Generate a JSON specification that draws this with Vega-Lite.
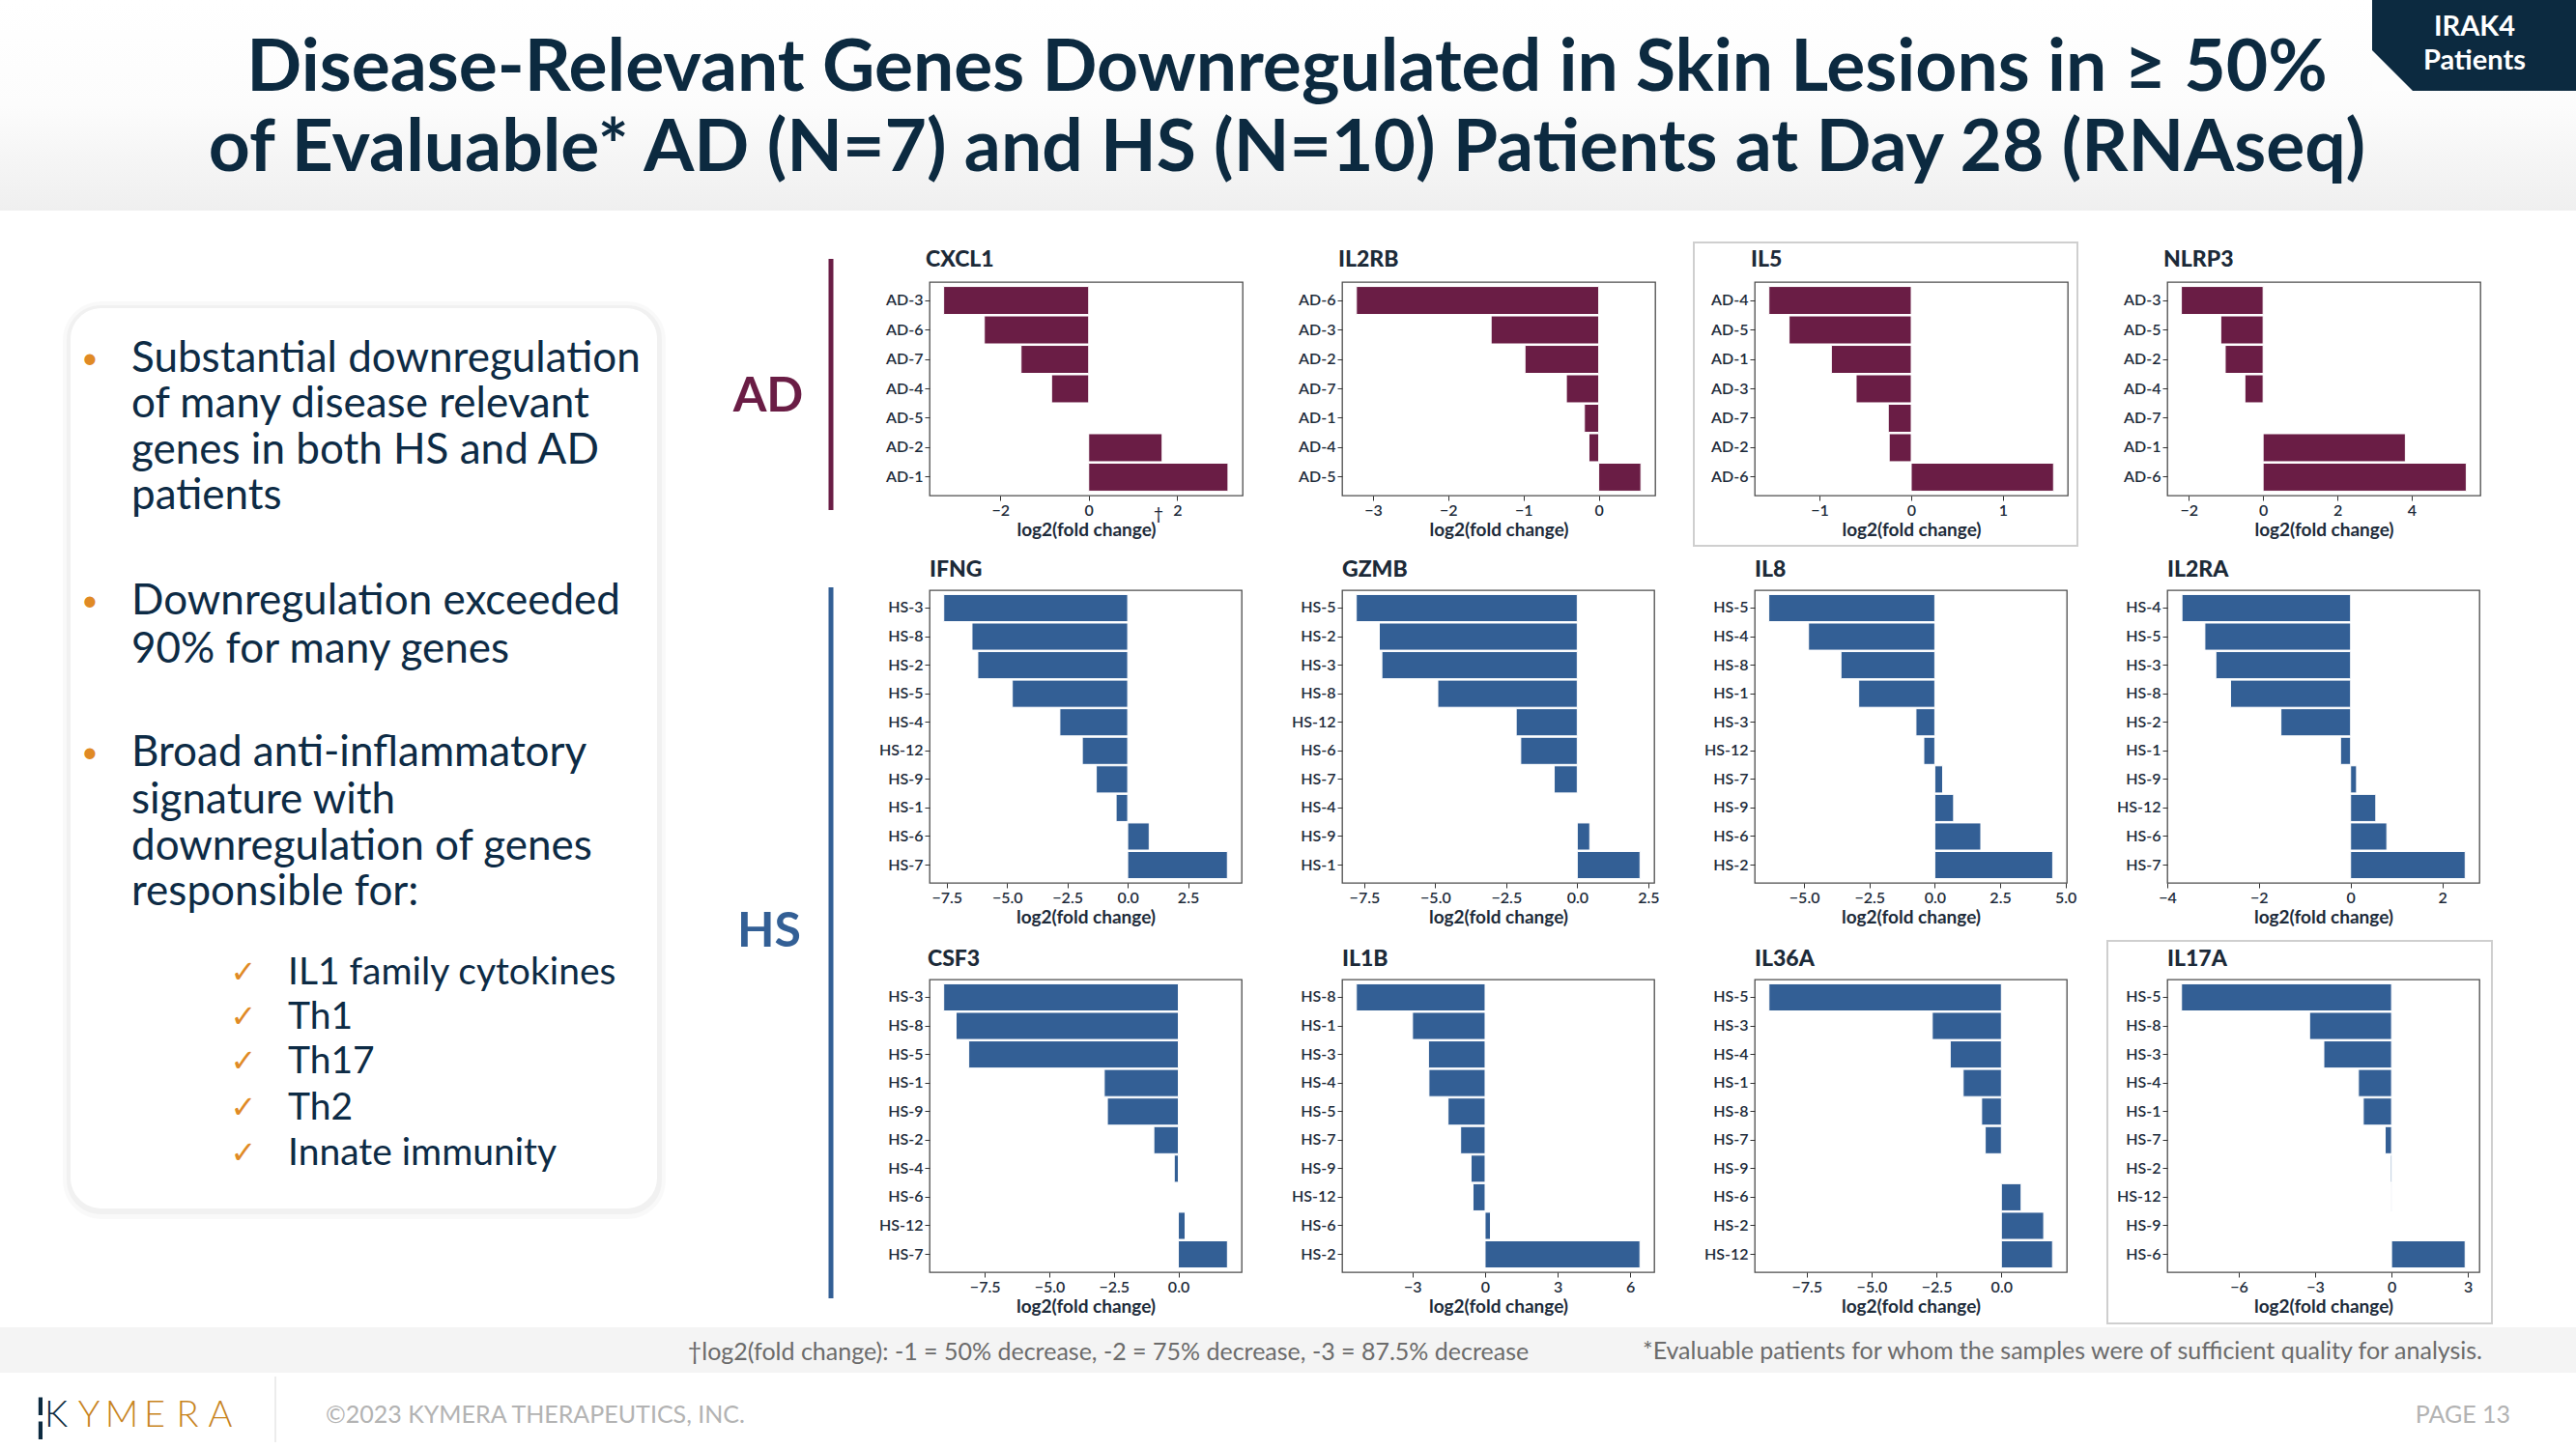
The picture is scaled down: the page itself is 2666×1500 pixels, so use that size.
{
  "$schema": "https://vega.github.io/schema/vega-lite/v6.json",
  "background": "#ffffff",
  "padding": 0,
  "spacing": 0,
  "datasets": {
    "lfc": [
      {"gene": "CXCL1", "patient": "AD-3", "lfc": -3.28}, {"gene": "CXCL1", "patient": "AD-6", "lfc": -2.36}, {"gene": "CXCL1", "patient": "AD-7", "lfc": -1.53}, {"gene": "CXCL1", "patient": "AD-4", "lfc": -0.84}, {"gene": "CXCL1", "patient": "AD-5", "lfc": 0}, {"gene": "CXCL1", "patient": "AD-2", "lfc": 1.66}, {"gene": "CXCL1", "patient": "AD-1", "lfc": 3.15},
      {"gene": "IL2RB", "patient": "AD-6", "lfc": -3.22}, {"gene": "IL2RB", "patient": "AD-3", "lfc": -1.43}, {"gene": "IL2RB", "patient": "AD-2", "lfc": -0.98}, {"gene": "IL2RB", "patient": "AD-7", "lfc": -0.43}, {"gene": "IL2RB", "patient": "AD-1", "lfc": -0.19}, {"gene": "IL2RB", "patient": "AD-4", "lfc": -0.13}, {"gene": "IL2RB", "patient": "AD-5", "lfc": 0.56},
      {"gene": "IL5", "patient": "AD-4", "lfc": -1.55}, {"gene": "IL5", "patient": "AD-5", "lfc": -1.33}, {"gene": "IL5", "patient": "AD-1", "lfc": -0.87}, {"gene": "IL5", "patient": "AD-3", "lfc": -0.6}, {"gene": "IL5", "patient": "AD-7", "lfc": -0.25}, {"gene": "IL5", "patient": "AD-2", "lfc": -0.24}, {"gene": "IL5", "patient": "AD-6", "lfc": 1.55},
      {"gene": "NLRP3", "patient": "AD-3", "lfc": -2.2}, {"gene": "NLRP3", "patient": "AD-5", "lfc": -1.14}, {"gene": "NLRP3", "patient": "AD-2", "lfc": -1.02}, {"gene": "NLRP3", "patient": "AD-4", "lfc": -0.49}, {"gene": "NLRP3", "patient": "AD-7", "lfc": 0}, {"gene": "NLRP3", "patient": "AD-1", "lfc": 3.83}, {"gene": "NLRP3", "patient": "AD-6", "lfc": 5.47},
      {"gene": "IFNG", "patient": "HS-3", "lfc": -7.62}, {"gene": "IFNG", "patient": "HS-8", "lfc": -6.45}, {"gene": "IFNG", "patient": "HS-2", "lfc": -6.21}, {"gene": "IFNG", "patient": "HS-5", "lfc": -4.78}, {"gene": "IFNG", "patient": "HS-4", "lfc": -2.81}, {"gene": "IFNG", "patient": "HS-12", "lfc": -1.88}, {"gene": "IFNG", "patient": "HS-9", "lfc": -1.3}, {"gene": "IFNG", "patient": "HS-1", "lfc": -0.48}, {"gene": "IFNG", "patient": "HS-6", "lfc": 0.89}, {"gene": "IFNG", "patient": "HS-7", "lfc": 4.13},
      {"gene": "GZMB", "patient": "HS-5", "lfc": -7.78}, {"gene": "GZMB", "patient": "HS-2", "lfc": -6.97}, {"gene": "GZMB", "patient": "HS-3", "lfc": -6.88}, {"gene": "GZMB", "patient": "HS-8", "lfc": -4.91}, {"gene": "GZMB", "patient": "HS-12", "lfc": -2.15}, {"gene": "GZMB", "patient": "HS-6", "lfc": -1.99}, {"gene": "GZMB", "patient": "HS-7", "lfc": -0.81}, {"gene": "GZMB", "patient": "HS-4", "lfc": 0}, {"gene": "GZMB", "patient": "HS-9", "lfc": 0.44}, {"gene": "GZMB", "patient": "HS-1", "lfc": 2.21},
      {"gene": "IL8", "patient": "HS-5", "lfc": -6.35}, {"gene": "IL8", "patient": "HS-4", "lfc": -4.83}, {"gene": "IL8", "patient": "HS-8", "lfc": -3.59}, {"gene": "IL8", "patient": "HS-1", "lfc": -2.91}, {"gene": "IL8", "patient": "HS-3", "lfc": -0.72}, {"gene": "IL8", "patient": "HS-12", "lfc": -0.42}, {"gene": "IL8", "patient": "HS-7", "lfc": 0.3}, {"gene": "IL8", "patient": "HS-9", "lfc": 0.72}, {"gene": "IL8", "patient": "HS-6", "lfc": 1.76}, {"gene": "IL8", "patient": "HS-2", "lfc": 4.51},
      {"gene": "IL2RA", "patient": "HS-4", "lfc": -3.68}, {"gene": "IL2RA", "patient": "HS-5", "lfc": -3.18}, {"gene": "IL2RA", "patient": "HS-3", "lfc": -2.94}, {"gene": "IL2RA", "patient": "HS-8", "lfc": -2.62}, {"gene": "IL2RA", "patient": "HS-2", "lfc": -1.52}, {"gene": "IL2RA", "patient": "HS-1", "lfc": -0.22}, {"gene": "IL2RA", "patient": "HS-9", "lfc": 0.13}, {"gene": "IL2RA", "patient": "HS-12", "lfc": 0.55}, {"gene": "IL2RA", "patient": "HS-6", "lfc": 0.79}, {"gene": "IL2RA", "patient": "HS-7", "lfc": 2.5},
      {"gene": "CSF3", "patient": "HS-3", "lfc": -9.09}, {"gene": "CSF3", "patient": "HS-8", "lfc": -8.61}, {"gene": "CSF3", "patient": "HS-5", "lfc": -8.12}, {"gene": "CSF3", "patient": "HS-1", "lfc": -2.87}, {"gene": "CSF3", "patient": "HS-9", "lfc": -2.75}, {"gene": "CSF3", "patient": "HS-2", "lfc": -0.95}, {"gene": "CSF3", "patient": "HS-4", "lfc": -0.16}, {"gene": "CSF3", "patient": "HS-6", "lfc": 0}, {"gene": "CSF3", "patient": "HS-12", "lfc": 0.26}, {"gene": "CSF3", "patient": "HS-7", "lfc": 1.9},
      {"gene": "IL1B", "patient": "HS-8", "lfc": -5.32}, {"gene": "IL1B", "patient": "HS-1", "lfc": -3.0}, {"gene": "IL1B", "patient": "HS-3", "lfc": -2.34}, {"gene": "IL1B", "patient": "HS-4", "lfc": -2.32}, {"gene": "IL1B", "patient": "HS-5", "lfc": -1.53}, {"gene": "IL1B", "patient": "HS-7", "lfc": -1.01}, {"gene": "IL1B", "patient": "HS-9", "lfc": -0.58}, {"gene": "IL1B", "patient": "HS-12", "lfc": -0.5}, {"gene": "IL1B", "patient": "HS-6", "lfc": 0.22}, {"gene": "IL1B", "patient": "HS-2", "lfc": 6.4},
      {"gene": "IL36A", "patient": "HS-5", "lfc": -8.95}, {"gene": "IL36A", "patient": "HS-3", "lfc": -2.66}, {"gene": "IL36A", "patient": "HS-4", "lfc": -1.97}, {"gene": "IL36A", "patient": "HS-1", "lfc": -1.47}, {"gene": "IL36A", "patient": "HS-8", "lfc": -0.76}, {"gene": "IL36A", "patient": "HS-7", "lfc": -0.62}, {"gene": "IL36A", "patient": "HS-9", "lfc": 0}, {"gene": "IL36A", "patient": "HS-6", "lfc": 0.76}, {"gene": "IL36A", "patient": "HS-2", "lfc": 1.63}, {"gene": "IL36A", "patient": "HS-12", "lfc": 1.97},
      {"gene": "IL17A", "patient": "HS-5", "lfc": -8.25}, {"gene": "IL17A", "patient": "HS-8", "lfc": -3.22}, {"gene": "IL17A", "patient": "HS-3", "lfc": -2.66}, {"gene": "IL17A", "patient": "HS-4", "lfc": -1.3}, {"gene": "IL17A", "patient": "HS-1", "lfc": -1.11}, {"gene": "IL17A", "patient": "HS-7", "lfc": -0.25}, {"gene": "IL17A", "patient": "HS-2", "lfc": -0.04}, {"gene": "IL17A", "patient": "HS-12", "lfc": -0.01}, {"gene": "IL17A", "patient": "HS-9", "lfc": 0}, {"gene": "IL17A", "patient": "HS-6", "lfc": 2.89}
    ]
  },
  "config": {
    "font": "Lato",
    "view": {"stroke": "#4d4d4d", "strokeWidth": 1.3},
    "axis": {"domain": false, "grid": false, "labelFont": "Lato", "labelFontSize": 16, "labelFontWeight": 600, "labelColor": "#1d2b3a", "tickColor": "#333333", "tickSize": 5, "labelPadding": 2, "titleFont": "Lato", "titleFontSize": 19, "titleFontWeight": "bold", "titleColor": "#1d2b3a", "titlePadding": 3, "labelOverlap": false, "labelFlush": false},
    "text": {"font": "Lato"}
  },
  "vconcat": [
    {
      "width": 2666, "height": 218,
      "view": {"stroke": null},
      "layer": [
        {"data": {"values": [{}]}, "mark": {"type": "rect", "fill": {"gradient": "linear", "x1": 0, "y1": 0, "x2": 0, "y2": 1, "stops": [{"offset": 0, "color": "#ffffff"}, {"offset": 0.5, "color": "#fcfcfc"}, {"offset": 1, "color": "#efefef"}]}}, "encoding": {"x": {"value": 0}, "x2": {"value": 2666}, "y": {"value": 0}, "y2": {"value": 218}}},
        {"data": {"values": [{"t": "Disease-Relevant Genes Downregulated in Skin Lesions in ≥ 50%", "line": 1}, {"t": "of Evaluable* AD (N=7) and HS (N=10) Patients at Day 28 (RNAseq)", "line": 2}]},
         "mark": {"type": "text", "fontSize": 75, "fontWeight": "bold", "color": "#0c2a40", "align": "center", "baseline": "alphabetic"},
         "encoding": {"text": {"field": "t"}, "x": {"value": 1332}, "y": {"field": "line", "type": "quantitative", "scale": {"domain": [1, 2], "range": [94, 177]}, "axis": null}}},
        {"data": {"values": [{}]}, "mark": {"type": "rect", "fill": "#0c2a40"}, "encoding": {"x": {"value": 2455}, "x2": {"value": 2666}, "y": {"value": 0}, "y2": {"value": 94}}},
        {"data": {"values": [{}]}, "mark": {"type": "point", "shape": "M-1,-1L-1,1L1,1Z", "filled": true, "size": 1764, "color": "#fdfdfd", "opacity": 1, "strokeWidth": 0}, "encoding": {"x": {"value": 2476}, "y": {"value": 73}}},
        {"data": {"values": [{"t": "IRAK4"}]}, "mark": {"type": "text", "fontSize": 29, "fontWeight": "bold", "color": "#ffffff", "align": "center", "baseline": "middle"}, "encoding": {"text": {"field": "t"}, "x": {"value": 2561}, "y": {"value": 28}}},
        {"data": {"values": [{"t": "Patients"}]}, "mark": {"type": "text", "fontSize": 29, "fontWeight": "bold", "color": "#ffffff", "align": "center", "baseline": "middle"}, "encoding": {"text": {"field": "t"}, "x": {"value": 2561}, "y": {"value": 63}}}
      ]
    },
    {
      "spacing": 0,
      "hconcat": [
        {
          "width": 890, "height": 1000,
          "view": {"stroke": null},
          "layer": [
            {"data": {"values": [{}]}, "mark": {"type": "rect", "fill": "#000000", "opacity": 0.025, "cornerRadius": 40}, "encoding": {"x": {"value": 65}, "x2": {"value": 689}, "y": {"value": 20}, "y2": {"value": 970}}},
            {"data": {"values": [{}]}, "mark": {"type": "rect", "fill": "#000000", "opacity": 0.03, "cornerRadius": 35}, "encoding": {"x": {"value": 69}, "x2": {"value": 685}, "y": {"value": 24}, "y2": {"value": 965}}},
            {"data": {"values": [{}]}, "mark": {"type": "rect", "fill": "#ffffff", "cornerRadius": 32}, "encoding": {"x": {"value": 73}, "x2": {"value": 680}, "y": {"value": 27}, "y2": {"value": 959}}},
            {"data": {"values": [
              {"t": "Substantial downregulation", "line": 0, "first": true},
              {"t": "of many disease relevant", "line": 1, "first": false},
              {"t": "genes in both HS and AD", "line": 2, "first": false},
              {"t": "patients", "line": 3, "first": false},
              {"t": "Downregulation exceeded", "line": 5.29, "first": true},
              {"t": "90% for many genes", "line": 6.34, "first": false},
              {"t": "Broad anti-inflammatory", "line": 8.59, "first": true},
              {"t": "signature with", "line": 9.62, "first": false},
              {"t": "downregulation of genes", "line": 10.63, "first": false},
              {"t": "responsible for:", "line": 11.62, "first": false}
            ]},
             "layer": [
               {"mark": {"type": "text", "fontSize": 44, "color": "#0d2b45", "align": "left", "baseline": "middle"},
                "encoding": {"text": {"field": "t"}, "x": {"value": 136}, "y": {"field": "line", "type": "quantitative", "scale": {"domain": [0, 17.31], "range": [80, 902]}, "axis": null}}},
               {"transform": [{"filter": "datum.first"}],
                "mark": {"type": "text", "text": "•", "fontSize": 30, "color": "#e08a25", "align": "center", "baseline": "middle"},
                "encoding": {"x": {"value": 93}, "y": {"field": "line", "type": "quantitative", "scale": {"domain": [0, 17.31], "range": [80, 902]}, "axis": null}}}
             ]},
            {"data": {"values": [
              {"t": "IL1 family cytokines", "line": 13.37},
              {"t": "Th1", "line": 14.34},
              {"t": "Th17", "line": 15.31},
              {"t": "Th2", "line": 16.32},
              {"t": "Innate immunity", "line": 17.31}
            ]},
             "layer": [
               {"mark": {"type": "text", "fontSize": 39, "color": "#0d2b45", "align": "left", "baseline": "middle"},
                "encoding": {"text": {"field": "t"}, "x": {"value": 298}, "y": {"field": "line", "type": "quantitative", "scale": {"domain": [0, 17.31], "range": [80, 902]}, "axis": null}}},
               {"mark": {"type": "text", "text": "✓", "font": "DejaVu Sans", "fontSize": 32, "color": "#e08a25", "align": "center", "baseline": "middle"},
                "encoding": {"x": {"value": 252}, "y": {"field": "line", "type": "quantitative", "scale": {"domain": [0, 17.31], "range": [80, 902]}, "axis": null}}}
             ]},
            {"data": {"values": [{"g": "AD"}]}, "mark": {"type": "text", "fontSize": 50, "fontWeight": "bold", "color": "#6a1d45", "align": "center", "baseline": "middle"}, "encoding": {"text": {"field": "g"}, "x": {"value": 795}, "y": {"value": 119}}},
            {"data": {"values": [{"g": "HS"}]}, "mark": {"type": "text", "fontSize": 50, "fontWeight": "bold", "color": "#335f95", "align": "center", "baseline": "middle"}, "encoding": {"text": {"field": "g"}, "x": {"value": 796}, "y": {"value": 673}}},
            {"data": {"values": [{"g": "AD"}]}, "mark": {"type": "rule", "color": "#6a1d45", "strokeWidth": 5}, "encoding": {"x": {"value": 860}, "y": {"value": -24}, "y2": {"value": 236}}},
            {"data": {"values": [{"g": "HS"}]}, "mark": {"type": "rule", "color": "#335f95", "strokeWidth": 5}, "encoding": {"x": {"value": 860}, "y": {"value": 316}, "y2": {"value": 1052}}}
          ]
        },
        {
          "spacing": 0,
          "vconcat": [
            {
              "spacing": 0,
              "hconcat": [
                {"width": 324, "height": 221, "layer": [
                  {"data": {"values": [{}]}, "mark": {"type": "rect", "fill": "transparent", "strokeWidth": 0}, "encoding": {"x": {"value": -71}, "x2": {"value": 354}, "y": {"value": -73}, "y2": {"value": 275}}},
                  {"data": {"values": [{"t": "CXCL1"}]}, "mark": {"type": "text", "fontSize": 23, "fontWeight": 900, "color": "#1c2a38", "align": "left", "baseline": "alphabetic"}, "encoding": {"text": {"field": "t"}, "x": {"value": -4}, "y": {"value": -16}}},
                  {"data": {"name": "lfc"}, "transform": [{"filter": "datum.gene === 'CXCL1'"}], "mark": {"type": "bar", "color": "#6a1d45", "stroke": "#ffffff", "strokeWidth": 1},
                   "encoding": {"y": {"field": "patient", "type": "nominal", "sort": "x", "title": null, "scale": {"paddingInner": 0.05, "paddingOuter": 0.15}}, "x": {"field": "lfc", "type": "quantitative", "title": "log2(fold change)", "scale": {"domain": [-3.6, 3.48], "nice": false, "zero": false}, "axis": {"values": [-2, 0, 2], "format": "d"}}}},
                  {"data": {"values": [{"t": "†"}]}, "mark": {"type": "text", "fontSize": 18, "color": "#1d2b3a", "align": "center", "baseline": "middle"}, "encoding": {"text": {"field": "t"}, "x": {"value": 237}, "y": {"value": 241}}}
                ]},
                {"width": 324, "height": 221, "layer": [
                  {"data": {"values": [{}]}, "mark": {"type": "rect", "fill": "transparent", "strokeWidth": 0}, "encoding": {"x": {"value": -71}, "x2": {"value": 354}, "y": {"value": -73}, "y2": {"value": 275}}},
                  {"data": {"values": [{"t": "IL2RB"}]}, "mark": {"type": "text", "fontSize": 23, "fontWeight": 900, "color": "#1c2a38", "align": "left", "baseline": "alphabetic"}, "encoding": {"text": {"field": "t"}, "x": {"value": -4}, "y": {"value": -16}}},
                  {"data": {"name": "lfc"}, "transform": [{"filter": "datum.gene === 'IL2RB'"}], "mark": {"type": "bar", "color": "#6a1d45", "stroke": "#ffffff", "strokeWidth": 1},
                   "encoding": {"y": {"field": "patient", "type": "nominal", "sort": "x", "title": null, "scale": {"paddingInner": 0.05, "paddingOuter": 0.15}}, "x": {"field": "lfc", "type": "quantitative", "title": "log2(fold change)", "scale": {"domain": [-3.41, 0.75], "nice": false, "zero": false}, "axis": {"values": [-3, -2, -1, 0], "format": "d"}}}}
                ]},
                {"width": 324, "height": 221, "layer": [
                  {"data": {"values": [{}]}, "mark": {"type": "rect", "fill": "transparent", "strokeWidth": 0}, "encoding": {"x": {"value": -71}, "x2": {"value": 354}, "y": {"value": -73}, "y2": {"value": 275}}},
                  {"data": {"values": [{}]}, "mark": {"type": "rect", "fill": "transparent", "stroke": "#cfcfcf", "strokeWidth": 2}, "encoding": {"x": {"value": -63}, "x2": {"value": 334}, "y": {"value": -41}, "y2": {"value": 273}}},
                  {"data": {"values": [{"t": "IL5"}]}, "mark": {"type": "text", "fontSize": 23, "fontWeight": 900, "color": "#1c2a38", "align": "left", "baseline": "alphabetic"}, "encoding": {"text": {"field": "t"}, "x": {"value": -4}, "y": {"value": -16}}},
                  {"data": {"name": "lfc"}, "transform": [{"filter": "datum.gene === 'IL5'"}], "mark": {"type": "bar", "color": "#6a1d45", "stroke": "#ffffff", "strokeWidth": 1},
                   "encoding": {"y": {"field": "patient", "type": "nominal", "sort": "x", "title": null, "scale": {"paddingInner": 0.05, "paddingOuter": 0.15}}, "x": {"field": "lfc", "type": "quantitative", "title": "log2(fold change)", "scale": {"domain": [-1.705, 1.705], "nice": false, "zero": false}, "axis": {"values": [-1, 0, 1], "format": "d"}}}}
                ]},
                {"width": 324, "height": 221, "layer": [
                  {"data": {"values": [{}]}, "mark": {"type": "rect", "fill": "transparent", "strokeWidth": 0}, "encoding": {"x": {"value": -71}, "x2": {"value": 354}, "y": {"value": -73}, "y2": {"value": 275}}},
                  {"data": {"values": [{"t": "NLRP3"}]}, "mark": {"type": "text", "fontSize": 23, "fontWeight": 900, "color": "#1c2a38", "align": "left", "baseline": "alphabetic"}, "encoding": {"text": {"field": "t"}, "x": {"value": -4}, "y": {"value": -16}}},
                  {"data": {"name": "lfc"}, "transform": [{"filter": "datum.gene === 'NLRP3'"}], "mark": {"type": "bar", "color": "#6a1d45", "stroke": "#ffffff", "strokeWidth": 1},
                   "encoding": {"y": {"field": "patient", "type": "nominal", "sort": "x", "title": null, "scale": {"paddingInner": 0.05, "paddingOuter": 0.15}}, "x": {"field": "lfc", "type": "quantitative", "title": "log2(fold change)", "scale": {"domain": [-2.58, 5.85], "nice": false, "zero": false}, "axis": {"values": [-2, 0, 2, 4], "format": "d"}}}}
                ]}
              ]
            },
            {
              "spacing": 0,
              "hconcat": [
                {"width": 323, "height": 303, "layer": [
                  {"data": {"values": [{}]}, "mark": {"type": "rect", "fill": "transparent", "strokeWidth": 0}, "encoding": {"x": {"value": -71}, "x2": {"value": 354}, "y": {"value": -42}, "y2": {"value": 358}}},
                  {"data": {"values": [{"t": "IFNG"}]}, "mark": {"type": "text", "fontSize": 23, "fontWeight": 900, "color": "#1c2a38", "align": "left", "baseline": "alphabetic"}, "encoding": {"text": {"field": "t"}, "x": {"value": 0}, "y": {"value": -14}}},
                  {"data": {"name": "lfc"}, "transform": [{"filter": "datum.gene === 'IFNG'"}], "mark": {"type": "bar", "color": "#335f95", "stroke": "#ffffff", "strokeWidth": 1},
                   "encoding": {"y": {"field": "patient", "type": "nominal", "sort": "x", "title": null, "scale": {"paddingInner": 0.05, "paddingOuter": 0.15}}, "x": {"field": "lfc", "type": "quantitative", "title": "log2(fold change)", "scale": {"domain": [-8.21, 4.72], "nice": false, "zero": false}, "axis": {"values": [-7.5, -5, -2.5, 0, 2.5], "format": ".1f"}}}}
                ]},
                {"width": 323, "height": 303, "layer": [
                  {"data": {"values": [{}]}, "mark": {"type": "rect", "fill": "transparent", "strokeWidth": 0}, "encoding": {"x": {"value": -71}, "x2": {"value": 354}, "y": {"value": -42}, "y2": {"value": 358}}},
                  {"data": {"values": [{"t": "GZMB"}]}, "mark": {"type": "text", "fontSize": 23, "fontWeight": 900, "color": "#1c2a38", "align": "left", "baseline": "alphabetic"}, "encoding": {"text": {"field": "t"}, "x": {"value": 0}, "y": {"value": -14}}},
                  {"data": {"name": "lfc"}, "transform": [{"filter": "datum.gene === 'GZMB'"}], "mark": {"type": "bar", "color": "#335f95", "stroke": "#ffffff", "strokeWidth": 1},
                   "encoding": {"y": {"field": "patient", "type": "nominal", "sort": "x", "title": null, "scale": {"paddingInner": 0.05, "paddingOuter": 0.15}}, "x": {"field": "lfc", "type": "quantitative", "title": "log2(fold change)", "scale": {"domain": [-8.28, 2.71], "nice": false, "zero": false}, "axis": {"values": [-7.5, -5, -2.5, 0, 2.5], "format": ".1f"}}}}
                ]},
                {"width": 323, "height": 303, "layer": [
                  {"data": {"values": [{}]}, "mark": {"type": "rect", "fill": "transparent", "strokeWidth": 0}, "encoding": {"x": {"value": -71}, "x2": {"value": 354}, "y": {"value": -42}, "y2": {"value": 358}}},
                  {"data": {"values": [{"t": "IL8"}]}, "mark": {"type": "text", "fontSize": 23, "fontWeight": 900, "color": "#1c2a38", "align": "left", "baseline": "alphabetic"}, "encoding": {"text": {"field": "t"}, "x": {"value": 0}, "y": {"value": -14}}},
                  {"data": {"name": "lfc"}, "transform": [{"filter": "datum.gene === 'IL8'"}], "mark": {"type": "bar", "color": "#335f95", "stroke": "#ffffff", "strokeWidth": 1},
                   "encoding": {"y": {"field": "patient", "type": "nominal", "sort": "x", "title": null, "scale": {"paddingInner": 0.05, "paddingOuter": 0.15}}, "x": {"field": "lfc", "type": "quantitative", "title": "log2(fold change)", "scale": {"domain": [-6.89, 5.05], "nice": false, "zero": false}, "axis": {"values": [-5, -2.5, 0, 2.5, 5], "format": ".1f"}}}}
                ]},
                {"width": 323, "height": 303, "layer": [
                  {"data": {"values": [{}]}, "mark": {"type": "rect", "fill": "transparent", "strokeWidth": 0}, "encoding": {"x": {"value": -71}, "x2": {"value": 354}, "y": {"value": -42}, "y2": {"value": 358}}},
                  {"data": {"values": [{"t": "IL2RA"}]}, "mark": {"type": "text", "fontSize": 23, "fontWeight": 900, "color": "#1c2a38", "align": "left", "baseline": "alphabetic"}, "encoding": {"text": {"field": "t"}, "x": {"value": 0}, "y": {"value": -14}}},
                  {"data": {"name": "lfc"}, "transform": [{"filter": "datum.gene === 'IL2RA'"}], "mark": {"type": "bar", "color": "#335f95", "stroke": "#ffffff", "strokeWidth": 1},
                   "encoding": {"y": {"field": "patient", "type": "nominal", "sort": "x", "title": null, "scale": {"paddingInner": 0.05, "paddingOuter": 0.15}}, "x": {"field": "lfc", "type": "quantitative", "title": "log2(fold change)", "scale": {"domain": [-4.0, 2.81], "nice": false, "zero": false}, "axis": {"values": [-4, -2, 0, 2], "format": "d"}}}}
                ]}
              ]
            },
            {
              "spacing": 0,
              "hconcat": [
                {"width": 323, "height": 303, "layer": [
                  {"data": {"values": [{}]}, "mark": {"type": "rect", "fill": "transparent", "strokeWidth": 0}, "encoding": {"x": {"value": -71}, "x2": {"value": 354}, "y": {"value": -43}, "y2": {"value": 359}}},
                  {"data": {"values": [{"t": "CSF3"}]}, "mark": {"type": "text", "fontSize": 23, "fontWeight": 900, "color": "#1c2a38", "align": "left", "baseline": "alphabetic"}, "encoding": {"text": {"field": "t"}, "x": {"value": -2}, "y": {"value": -14}}},
                  {"data": {"name": "lfc"}, "transform": [{"filter": "datum.gene === 'CSF3'"}], "mark": {"type": "bar", "color": "#335f95", "stroke": "#ffffff", "strokeWidth": 1},
                   "encoding": {"y": {"field": "patient", "type": "nominal", "sort": "x", "title": null, "scale": {"paddingInner": 0.05, "paddingOuter": 0.15}}, "x": {"field": "lfc", "type": "quantitative", "title": "log2(fold change)", "scale": {"domain": [-9.64, 2.45], "nice": false, "zero": false}, "axis": {"values": [-7.5, -5, -2.5, 0], "format": ".1f"}}}}
                ]},
                {"width": 323, "height": 303, "layer": [
                  {"data": {"values": [{}]}, "mark": {"type": "rect", "fill": "transparent", "strokeWidth": 0}, "encoding": {"x": {"value": -71}, "x2": {"value": 354}, "y": {"value": -43}, "y2": {"value": 359}}},
                  {"data": {"values": [{"t": "IL1B"}]}, "mark": {"type": "text", "fontSize": 23, "fontWeight": 900, "color": "#1c2a38", "align": "left", "baseline": "alphabetic"}, "encoding": {"text": {"field": "t"}, "x": {"value": 0}, "y": {"value": -14}}},
                  {"data": {"name": "lfc"}, "transform": [{"filter": "datum.gene === 'IL1B'"}], "mark": {"type": "bar", "color": "#335f95", "stroke": "#ffffff", "strokeWidth": 1},
                   "encoding": {"y": {"field": "patient", "type": "nominal", "sort": "x", "title": null, "scale": {"paddingInner": 0.05, "paddingOuter": 0.15}}, "x": {"field": "lfc", "type": "quantitative", "title": "log2(fold change)", "scale": {"domain": [-5.91, 6.99], "nice": false, "zero": false}, "axis": {"values": [-3, 0, 3, 6], "format": "d"}}}}
                ]},
                {"width": 323, "height": 303, "layer": [
                  {"data": {"values": [{}]}, "mark": {"type": "rect", "fill": "transparent", "strokeWidth": 0}, "encoding": {"x": {"value": -71}, "x2": {"value": 354}, "y": {"value": -43}, "y2": {"value": 359}}},
                  {"data": {"values": [{"t": "IL36A"}]}, "mark": {"type": "text", "fontSize": 23, "fontWeight": 900, "color": "#1c2a38", "align": "left", "baseline": "alphabetic"}, "encoding": {"text": {"field": "t"}, "x": {"value": 0}, "y": {"value": -14}}},
                  {"data": {"name": "lfc"}, "transform": [{"filter": "datum.gene === 'IL36A'"}], "mark": {"type": "bar", "color": "#335f95", "stroke": "#ffffff", "strokeWidth": 1},
                   "encoding": {"y": {"field": "patient", "type": "nominal", "sort": "x", "title": null, "scale": {"paddingInner": 0.05, "paddingOuter": 0.15}}, "x": {"field": "lfc", "type": "quantitative", "title": "log2(fold change)", "scale": {"domain": [-9.5, 2.52], "nice": false, "zero": false}, "axis": {"values": [-7.5, -5, -2.5, 0], "format": ".1f"}}}}
                ]},
                {"width": 323, "height": 303, "layer": [
                  {"data": {"values": [{}]}, "mark": {"type": "rect", "fill": "transparent", "strokeWidth": 0}, "encoding": {"x": {"value": -71}, "x2": {"value": 354}, "y": {"value": -43}, "y2": {"value": 359}}},
                  {"data": {"values": [{}]}, "mark": {"type": "rect", "fill": "transparent", "stroke": "#cfcfcf", "strokeWidth": 2}, "encoding": {"x": {"value": -62}, "x2": {"value": 336}, "y": {"value": -40}, "y2": {"value": 356}}},
                  {"data": {"values": [{"t": "IL17A"}]}, "mark": {"type": "text", "fontSize": 23, "fontWeight": 900, "color": "#1c2a38", "align": "left", "baseline": "alphabetic"}, "encoding": {"text": {"field": "t"}, "x": {"value": 0}, "y": {"value": -14}}},
                  {"data": {"name": "lfc"}, "transform": [{"filter": "datum.gene === 'IL17A'"}], "mark": {"type": "bar", "color": "#335f95", "stroke": "#ffffff", "strokeWidth": 1},
                   "encoding": {"y": {"field": "patient", "type": "nominal", "sort": "x", "title": null, "scale": {"paddingInner": 0.05, "paddingOuter": 0.15}}, "x": {"field": "lfc", "type": "quantitative", "title": "log2(fold change)", "scale": {"domain": [-8.81, 3.45], "nice": false, "zero": false}, "axis": {"values": [-6, -3, 0, 3], "format": "d"}}}}
                ]}
              ]
            }
          ]
        }
      ]
    },
    {
      "width": 2666, "height": 47,
      "view": {"stroke": null, "fill": "#f4f4f4"},
      "layer": [
        {"data": {"values": [{"t": "†log2(fold change): -1 = 50% decrease, -2 = 75% decrease, -3 = 87.5% decrease"}]}, "mark": {"type": "text", "fontSize": 25, "color": "#6b6b6b", "align": "center", "baseline": "middle"}, "encoding": {"text": {"field": "t"}, "x": {"value": 1147}, "y": {"value": 26}}},
        {"data": {"values": [{"t": "*Evaluable patients for whom the samples were of sufficient quality for analysis."}]}, "mark": {"type": "text", "fontSize": 25, "color": "#6b6b6b", "align": "right", "baseline": "middle"}, "encoding": {"text": {"field": "t"}, "x": {"value": 2569}, "y": {"value": 25}}}
      ]
    },
    {
      "width": 2666, "height": 85,
      "view": {"stroke": null, "fill": "#ffffff"},
      "layer": [
        {"data": {"values": [{"t": "¦"}]}, "mark": {"type": "text", "font": "DejaVu Sans", "fontSize": 50, "color": "#0c2a40", "align": "center", "baseline": "middle"}, "encoding": {"text": {"field": "t"}, "x": {"value": 42}, "y": {"value": 45}}},
        {"data": {"values": [{"ch": "K", "i": 0}, {"ch": "Y", "i": 1}, {"ch": "M", "i": 2}, {"ch": "E", "i": 3}, {"ch": "R", "i": 4}, {"ch": "A", "i": 5}]},
         "mark": {"type": "text", "fontSize": 38, "fontWeight": 300, "align": "center", "baseline": "middle"},
         "encoding": {"text": {"field": "ch"}, "x": {"field": "i", "type": "quantitative", "scale": {"domain": [0, 5], "range": [58, 228]}, "axis": null}, "y": {"value": 45}, "color": {"condition": {"test": "datum.i === 0", "value": "#0c2a40"}, "value": "#c8841e"}}},
        {"data": {"values": [{}]}, "mark": {"type": "rule", "color": "#e6e6e6", "strokeWidth": 1.5}, "encoding": {"x": {"value": 285}, "y": {"value": 4}, "y2": {"value": 72}}},
        {"data": {"values": [{"t": "©2023 KYMERA THERAPEUTICS, INC."}]}, "mark": {"type": "text", "fontSize": 25, "color": "#b3b3b3", "align": "left", "baseline": "middle"}, "encoding": {"text": {"field": "t"}, "x": {"value": 337}, "y": {"value": 44}}},
        {"data": {"values": [{"t": "PAGE 13"}]}, "mark": {"type": "text", "fontSize": 25, "color": "#b3b3b3", "align": "right", "baseline": "middle"}, "encoding": {"text": {"field": "t"}, "x": {"value": 2598}, "y": {"value": 44}}}
      ]
    }
  ]
}
